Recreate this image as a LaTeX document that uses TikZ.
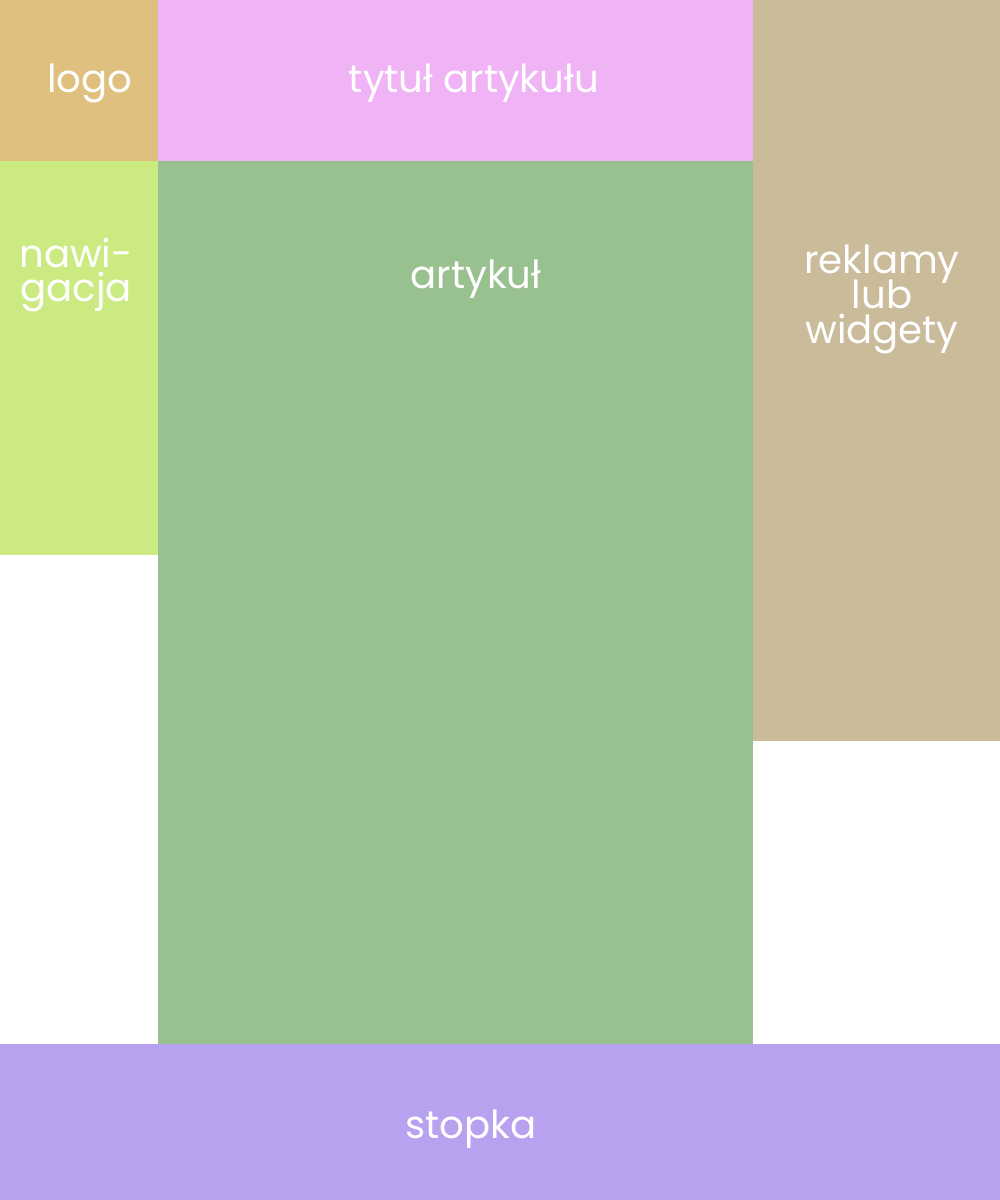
\documentclass[tikz,border=0pt]{standalone}
\usepackage{fontspec}
\setmainfont{Poppins}
\usetikzlibrary{positioning}

\definecolor{logoclr}{HTML}{DFC07E}
\definecolor{titleclr}{HTML}{F0B3F5}
\definecolor{adsclr}{HTML}{CABB9A}
\definecolor{navclr}{HTML}{CBEA81}
\definecolor{articleclr}{HTML}{99C190}
\definecolor{footerclr}{HTML}{B8A2F0}

\begin{document}
\begin{tikzpicture}[
    x=0.02cm, y=-0.02cm,
    % Styles
    area/.style = {draw=none},
    label/.style = {text=white, align=center, inner sep=0pt,
        font=\fontsize{22}{19.9}\selectfont,
        execute at begin node={\lineskiplimit=-100pt}}
]

\useasboundingbox (0,0) rectangle (1000,1200);

% --- AREAS ---
\fill[area, logoclr] (0,0) rectangle (158,161);
\fill[area, titleclr] (158,0) rectangle (753,161);
\fill[area, adsclr] (753,0) rectangle (1000,741);
\fill[area, navclr] (0,161) rectangle (158,555);
\fill[area, articleclr] (158,161) rectangle (753,1044);
\fill[area, footerclr] (0,1044) rectangle (1000,1200);

% --- LABELS ---
\node[label] (logo) at (90,83) {logo};
\node[label] (title) at (474,83) {tytuł artykułu};
\node[label] (nav) at (76,275) {nawi-\\gacja};
\node[label] (article) at (476,279) {artykuł};
\node[label] (ads) at (882,299) {reklamy\\lub\\widgety};
\node[label] (footer) at (471,1129) {stopka};

\end{tikzpicture}
\end{document}
